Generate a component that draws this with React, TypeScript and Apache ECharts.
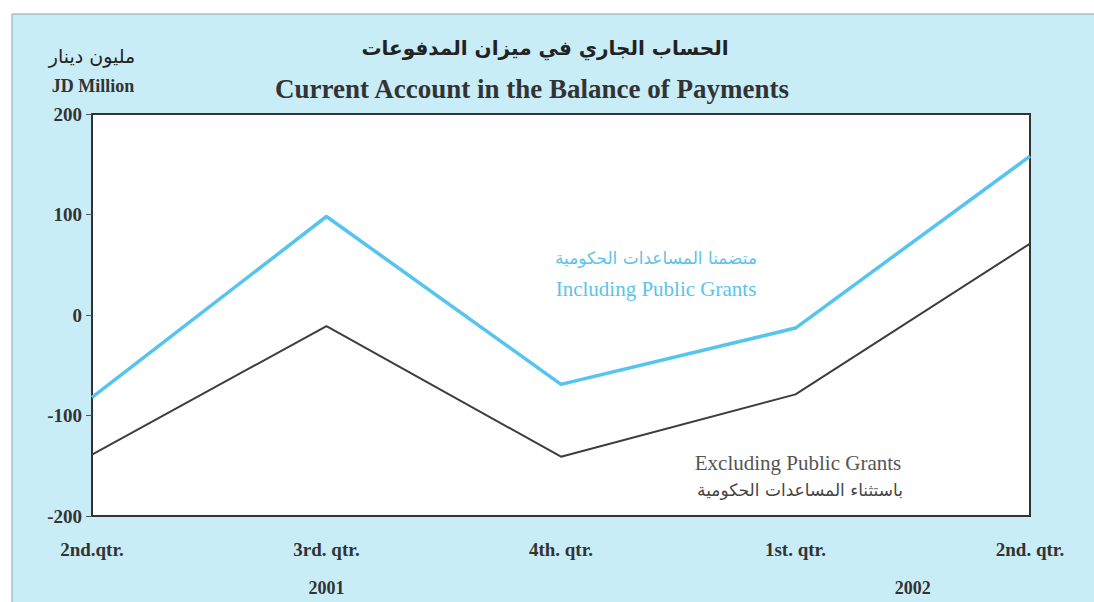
import React, { useEffect, useRef } from "react";
import * as echarts from "echarts";

const categories = ["2nd.qtr.", "3rd. qtr.", "4th. qtr.", "1st. qtr.", "2nd. qtr."];
const includingGrants = [-82, 98, -69, -13, 158];
const excludingGrants = [-139, -11, -141, -79, 71];
const yTicks = { min: -200, max: 200, interval: 100 };
const years = [
  { label: "2001", at: 1 },
  { label: "2002", at: 3.5 },
];

const SERIF = "'Liberation Serif', 'Times New Roman', serif";
const ARABIC = "'DejaVu Sans', 'Noto Sans', sans-serif";

export default function App() {
  const ref = useRef<HTMLDivElement>(null);
  useEffect(() => {
    if (!ref.current) return;
    const chart = echarts.init(ref.current, null, { renderer: "svg" });
    const gridLeft = 92;
    const gridRight = 64;
    const plotW = 1094 - gridLeft - gridRight;
    const step = plotW / (categories.length - 1);
    const txt = (x: number, y: number, text: string, font: string, fill: string) => ({
      type: "text",
      x,
      y,
      style: { text, font, fill, align: "center", verticalAlign: "middle" },
    });
    chart.setOption({
      animation: false,
      backgroundColor: "#ffffff",
      graphic: [
        {
          type: "rect",
          z: -10,
          silent: true,
          shape: { x: 12, y: 14, width: 1100, height: 600 },
          style: { fill: "#c9edf7", stroke: "#8aa4ab", lineWidth: 1 },
        },
        txt(545, 48, "الحساب الجاري في ميزان المدفوعات", `bold 20px ${ARABIC}`, "#222"),
        txt(532, 89, "Current Account in the Balance of Payments", `bold 27px ${SERIF}`, "#333"),
        txt(92, 56, "مليون دينار", `19px ${ARABIC}`, "#222"),
        txt(93, 86, "JD Million", `bold 18px ${SERIF}`, "#333"),
        txt(656, 258, "متضمنا المساعدات الحكومية", `17px ${ARABIC}`, "#5cc3e8"),
        txt(656, 289, "Including Public Grants", `21px ${SERIF}`, "#5cc3e8"),
        txt(798, 463, "Excluding Public Grants", `21px ${SERIF}`, "#555"),
        txt(800, 490, "باستثناء المساعدات الحكومية", `17px ${ARABIC}`, "#444"),
        ...years.map((y) => txt(gridLeft + y.at * step, 588, y.label, `bold 18px ${SERIF}`, "#333")),
      ],
      grid: {
        left: gridLeft,
        right: gridRight,
        top: 114,
        bottom: 86,
        show: true,
        backgroundColor: "#ffffff",
        borderColor: "#333333",
        borderWidth: 2,
      },
      xAxis: {
        type: "category",
        data: categories,
        boundaryGap: false,
        axisLine: { show: true, onZero: false, lineStyle: { color: "#333", width: 2 } },
        axisTick: { show: false },
        axisLabel: {
          margin: 24,
          fontFamily: SERIF,
          fontWeight: "bold",
          fontSize: 19,
          color: "#333",
        },
        splitLine: { show: false },
      },
      yAxis: {
        type: "value",
        min: yTicks.min,
        max: yTicks.max,
        interval: yTicks.interval,
        axisLine: { show: true, lineStyle: { color: "#333", width: 2 } },
        axisTick: { show: true, length: 6, lineStyle: { color: "#555", width: 1 } },
        axisLabel: {
          margin: 10,
          fontFamily: SERIF,
          fontWeight: "bold",
          fontSize: 19,
          color: "#333",
        },
        splitLine: { show: false },
      },
      series: [
        {
          name: "Including Public Grants",
          type: "line",
          data: includingGrants,
          symbol: "none",
          lineStyle: { color: "#55c4ee", width: 3.5 },
          z: 3,
        },
        {
          name: "Excluding Public Grants",
          type: "line",
          data: excludingGrants,
          symbol: "none",
          lineStyle: { color: "#3d3d3d", width: 2 },
          z: 2,
        },
      ],
    });
    return () => chart.dispose();
  }, []);
  return (
    <div
      ref={ref}
      style={{ position: "fixed", left: 0, top: 0, width: 1094, height: 602 }}
    />
  );
}
